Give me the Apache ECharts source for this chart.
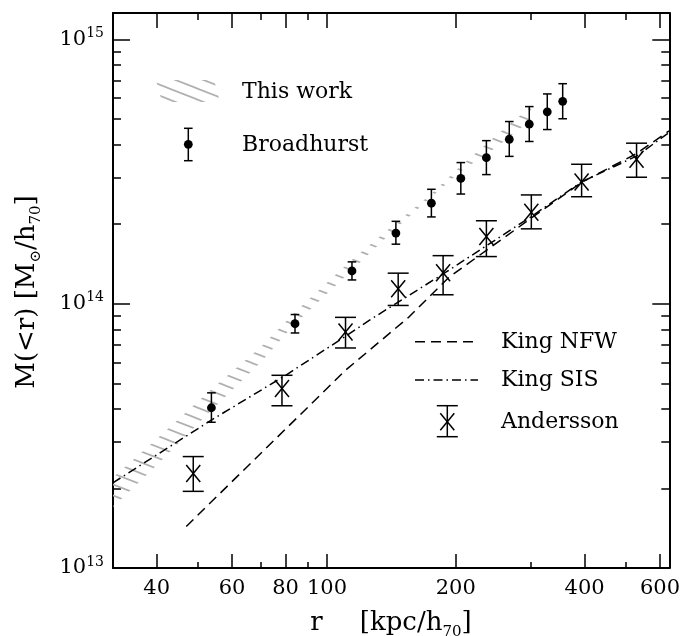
<!DOCTYPE html>
<html>
<head>
<meta charset="utf-8">
<script src="https://cdn.jsdelivr.net/npm/echarts@6/dist/echarts.min.js"></script>
<style>
  html, body { margin: 0; padding: 0; background: #fff; }
  #chart { width: 683px; height: 636px; }
</style>
</head>
<body>
<div id="chart"></div>
<script>
// Radius in kpc/h70, enclosed mass in Msun/h70

// Broadhurst points with error bars
const broadR  = [53.7, 84.2, 114.4, 144.9, 175.4, 205.5, 235.8, 266.7, 297.0, 327.2, 355.5];
const broadM  = [4.04e13, 8.4e13, 1.33e14, 1.85e14, 2.40e14, 2.98e14, 3.57e14, 4.19e14, 4.78e14, 5.32e14, 5.83e14];
const broadLo = [3.56e13, 7.75e13, 1.23e14, 1.68e14, 2.13e14, 2.60e14, 3.08e14, 3.61e14, 4.11e14, 4.56e14, 5.01e14];
const broadHi = [4.60e13, 9.1e13, 1.44e14, 2.05e14, 2.71e14, 3.42e14, 4.14e14, 4.89e14, 5.57e14, 6.22e14, 6.80e14];

// Andersson points with error bars
const andR  = [48.7, 78.5, 110.5, 146.7, 186.8, 235.8, 300.3, 393.6, 529.0];
const andM  = [2.28e13, 4.78e13, 7.81e13, 1.139e14, 1.309e14, 1.795e14, 2.22e14, 2.89e14, 3.52e14];
const andLo = [1.95e13, 4.11e13, 6.80e13, 9.85e13, 1.081e14, 1.508e14, 1.92e14, 2.54e14, 3.01e14];
const andHi = [2.64e13, 5.36e13, 8.88e13, 1.305e14, 1.52e14, 2.06e14, 2.58e14, 3.37e14, 4.05e14];

// King NFW model curve
const nfwR = [46.9, 110.5, 155.4, 192.9, 301.6, 393.6, 529.0, 630.0];
const nfwM = [1.436e13, 5.60e13, 8.90e13, 1.26e14, 2.12e14, 2.88e14, 3.70e14, 4.51e14];

// King SIS model curve
const sisR = [31.6, 53.7, 80.1, 110.5, 125.5, 189.6, 301.9, 393.6, 529.0, 630.0];
const sisM = [2.10e13, 3.63e13, 5.36e13, 7.53e13, 8.65e13, 1.316e14, 2.15e14, 2.89e14, 3.62e14, 4.44e14];

// "This work" allowed band
const bandR  = [31.6, 40, 53.7, 70, 84, 114, 145, 175, 205, 236, 267, 300];
const bandLo = [1.70e13, 2.45e13, 3.95e13, 6.0e13, 8.36e13, 1.332e14, 1.93e14, 2.525e14, 3.166e14, 3.68e14, 4.26e14, 4.98e14];
const bandHi = [2.20e13, 3.08e13, 4.75e13, 6.85e13, 9.26e13, 1.46e14, 2.02e14, 2.596e14, 3.315e14, 4.03e14, 4.78e14, 5.58e14];

// Axis ranges and ticks
const xRange = [Math.pow(10, 1.5), Math.pow(10, 2.8)];
const yRange = [1e13, Math.pow(10, 15.1)];
const xMajor = [40, 60, 80, 100, 200, 400, 600];
const xMinor = [50, 70, 90, 300, 500];
const yMajor = [1e13, 1e14, 1e15];
const yMinor = [2e13, 3e13, 4e13, 5e13, 6e13, 7e13, 8e13, 9e13,
                2e14, 3e14, 4e14, 5e14, 6e14, 7e14, 8e14, 9e14];

const FONT = 'DejaVu Serif';
const INK = '#000';
const HATCH = '#b0b0b0';

// Diagonal hatch tile used for the band fill
function hatchTile() {
  const W = 28, H = 11;
  const c = document.createElement('canvas');
  c.width = W; c.height = H;
  const g = c.getContext('2d');
  g.strokeStyle = HATCH;
  g.lineWidth = 1.7;
  for (let k = -1; k <= 1; k++) {
    g.beginPath();
    g.moveTo(-W, k * H - H);
    g.lineTo(2 * W, k * H + 2 * H);
    g.stroke();
  }
  return c;
}
const hatchFill = { image: hatchTile(), repeat: 'repeat' };

const lg = a => a.map(v => Math.log10(v));

function tickAxis(dim, position, vals, len, opts) {
  const isX = dim === 'x';
  return Object.assign({
    type: 'value',
    gridIndex: 0,
    position: position,
    min: isX ? 1.5 : 13,
    max: isX ? 2.8 : 15.1,
    axisLine: { show: false },
    axisTick: { show: true, inside: true, length: len, customValues: lg(vals),
                lineStyle: { color: INK, width: 1.5 } },
    axisLabel: { show: false },
    splitLine: { show: false }
  }, opts || {});
}

const frameLine = { show: true, lineStyle: { color: INK, width: 2 } };

const xAxes = [
  { type: 'log', gridIndex: 0, min: xRange[0], max: xRange[1], show: false, logBase: 10 },
  tickAxis('x', 'bottom', xMajor, 14, {
    axisLine: frameLine,
    axisLabel: {
      show: true, customValues: lg(xMajor), margin: 10,
      formatter: v => String(Math.round(Math.pow(10, v))),
      fontFamily: FONT, fontSize: 21, color: INK
    }
  }),
  tickAxis('x', 'bottom', xMinor, 6),
  tickAxis('x', 'top', xMajor, 15, { axisLine: frameLine }),
  tickAxis('x', 'top', xMinor, 7)
];

const yAxes = [
  { type: 'log', gridIndex: 0, min: yRange[0], max: yRange[1], show: false, logBase: 10 },
  tickAxis('y', 'left', yMajor, 17, {
    axisLine: frameLine,
    axisLabel: {
      show: true, customValues: lg(yMajor), margin: 9,
      formatter: v => '{b|10}{s|' + Math.round(v) + '}',
      rich: {
        b: { fontFamily: FONT, fontSize: 21, color: INK, lineHeight: 26 },
        s: { fontFamily: FONT, fontSize: 14, color: INK, lineHeight: 15, verticalAlign: 'top' }
      }
    }
  }),
  tickAxis('y', 'left', yMinor, 8),
  tickAxis('y', 'right', yMajor, 17, { axisLine: frameLine }),
  tickAxis('y', 'right', yMinor, 8)
];

const lineW = 1.5;

function barItem(capHalf, marker) {
  return function (params, api) {
    const x = api.value(0);
    const c = api.coord([x, api.value(1)]);
    const lo = api.coord([x, api.value(2)]);
    const hi = api.coord([x, api.value(3)]);
    const st = { stroke: INK, lineWidth: lineW, fill: null };
    const kids = [
      { type: 'line', shape: { x1: c[0], y1: hi[1], x2: c[0], y2: lo[1] }, style: st },
      { type: 'line', shape: { x1: c[0] - capHalf, y1: hi[1], x2: c[0] + capHalf, y2: hi[1] }, style: st },
      { type: 'line', shape: { x1: c[0] - capHalf, y1: lo[1], x2: c[0] + capHalf, y2: lo[1] }, style: st }
    ];
    if (marker === 'dot') {
      kids.push({ type: 'circle', shape: { cx: c[0], cy: c[1], r: 4.4 }, style: { fill: INK, stroke: null } });
    } else {
      const hx = 7, hy = 8.5;
      kids.push({ type: 'line', shape: { x1: c[0] - hx, y1: c[1] - hy, x2: c[0] + hx, y2: c[1] + hy }, style: st });
      kids.push({ type: 'line', shape: { x1: c[0] - hx, y1: c[1] + hy, x2: c[0] + hx, y2: c[1] - hy }, style: st });
    }
    return { type: 'group', children: kids };
  };
}

const series = [
  {
    name: 'This work',
    type: 'custom',
    xAxisIndex: 0, yAxisIndex: 0,
    silent: true, z: 1, clip: true,
    data: [[bandR[0], bandLo[0]]],
    renderItem: function (params, api) {
      const pts = [];
      for (let i = 0; i < bandR.length; i++) pts.push(api.coord([bandR[i], bandHi[i]]));
      for (let i = bandR.length - 1; i >= 0; i--) pts.push(api.coord([bandR[i], bandLo[i]]));
      return { type: 'polygon', shape: { points: pts }, style: { fill: hatchFill, stroke: null } };
    }
  },
  {
    name: 'King NFW',
    type: 'line',
    xAxisIndex: 0, yAxisIndex: 0,
    showSymbol: false, silent: true, z: 3,
    data: nfwR.map((r, i) => [r, nfwM[i]]),
    lineStyle: { color: INK, width: lineW, type: [10, 6] }
  },
  {
    name: 'King SIS',
    type: 'line',
    xAxisIndex: 0, yAxisIndex: 0,
    showSymbol: false, silent: true, z: 3,
    data: sisR.map((r, i) => [r, sisM[i]]),
    lineStyle: { color: INK, width: lineW, type: [9, 4, 1.5, 4] }
  },
  {
    name: 'Broadhurst',
    type: 'custom',
    xAxisIndex: 0, yAxisIndex: 0,
    silent: true, z: 4,
    encode: { x: 0, y: [1, 2, 3] },
    data: broadR.map((r, i) => [r, broadM[i], broadLo[i], broadHi[i]]),
    renderItem: barItem(4.3, 'dot')
  },
  {
    name: 'Andersson',
    type: 'custom',
    xAxisIndex: 0, yAxisIndex: 0,
    silent: true, z: 4,
    encode: { x: 0, y: [1, 2, 3] },
    data: andR.map((r, i) => [r, andM[i], andLo[i], andHi[i]]),
    renderItem: barItem(10.5, 'cross')
  }
];

// Legend keys and axis titles
const textStyle = (t, x, y) => ({
  type: 'text', x: x, y: y, z: 10,
  style: { text: t, fontFamily: FONT, fontSize: 22, fill: INK, verticalAlign: 'middle', align: 'left' }
});
const stk = { stroke: INK, lineWidth: lineW };
const titleRich = {
  t: { fontFamily: FONT, fontSize: 26, fill: INK, color: INK, lineHeight: 34 },
  g: { fontFamily: FONT, fontSize: 26, fill: INK, color: INK, lineHeight: 34, width: 37 },
  s: { fontFamily: FONT, fontSize: 15, fill: INK, color: INK, lineHeight: 16, verticalAlign: 'bottom' }
};

const graphics = [
  // This work key
  { type: 'polygon', z: 10, shape: { points: [[156, 80], [214, 80], [220, 102], [162, 102]] },
    style: { fill: hatchFill, stroke: null } },
  textStyle('This work', 242, 92),
  // Broadhurst key
  { type: 'line', z: 10, shape: { x1: 188.3, y1: 128.3, x2: 188.3, y2: 160.7 }, style: stk },
  { type: 'line', z: 10, shape: { x1: 184, y1: 128.3, x2: 192.6, y2: 128.3 }, style: stk },
  { type: 'line', z: 10, shape: { x1: 184, y1: 160.7, x2: 192.6, y2: 160.7 }, style: stk },
  { type: 'circle', z: 10, shape: { cx: 188.3, cy: 144.3, r: 4.4 }, style: { fill: INK } },
  textStyle('Broadhurst', 242, 145),
  // King NFW key
  { type: 'line', z: 10, shape: { x1: 415, y1: 341.7, x2: 475, y2: 341.7 },
    style: { stroke: INK, lineWidth: lineW, lineDash: [10, 6] } },
  textStyle('King NFW', 501, 342),
  // King SIS key
  { type: 'line', z: 10, shape: { x1: 415, y1: 380, x2: 478, y2: 380 },
    style: { stroke: INK, lineWidth: lineW, lineDash: [9, 4, 1.5, 4] } },
  textStyle('King SIS', 501, 380),
  // Andersson key
  { type: 'line', z: 10, shape: { x1: 447.3, y1: 405.7, x2: 447.3, y2: 436.7 }, style: stk },
  { type: 'line', z: 10, shape: { x1: 436.8, y1: 405.7, x2: 457.8, y2: 405.7 }, style: stk },
  { type: 'line', z: 10, shape: { x1: 436.8, y1: 436.7, x2: 457.8, y2: 436.7 }, style: stk },
  { type: 'line', z: 10, shape: { x1: 440.3, y1: 413.2, x2: 454.3, y2: 430.2 }, style: stk },
  { type: 'line', z: 10, shape: { x1: 440.3, y1: 430.2, x2: 454.3, y2: 413.2 }, style: stk },
  textStyle('Andersson', 501, 422),
  // Axis titles
  {
    type: 'text', x: 391, y: 623, z: 10,
    style: {
      text: '{t|r}{g| }{t|[kpc/h}{s|70}{t|]}',
      align: 'center', verticalAlign: 'middle',
      rich: titleRich
    }
  },
  {
    type: 'text', x: 27, y: 292, z: 10, rotation: Math.PI / 2,
    style: {
      text: '{t|M(<r) [M}{s|\u2299}{t|/h}{s|70}{t|]}',
      align: 'center', verticalAlign: 'middle',
      rich: titleRich
    }
  }
];

const chart = echarts.init(document.getElementById('chart'), null, { renderer: 'canvas' });
chart.setOption({
  animation: false,
  backgroundColor: '#fff',
  grid: { left: 113, right: 13, top: 13, bottom: 68, containLabel: false },
  xAxis: xAxes,
  yAxis: yAxes,
  series: series,
  graphic: graphics
});
</script>
</body>
</html>
